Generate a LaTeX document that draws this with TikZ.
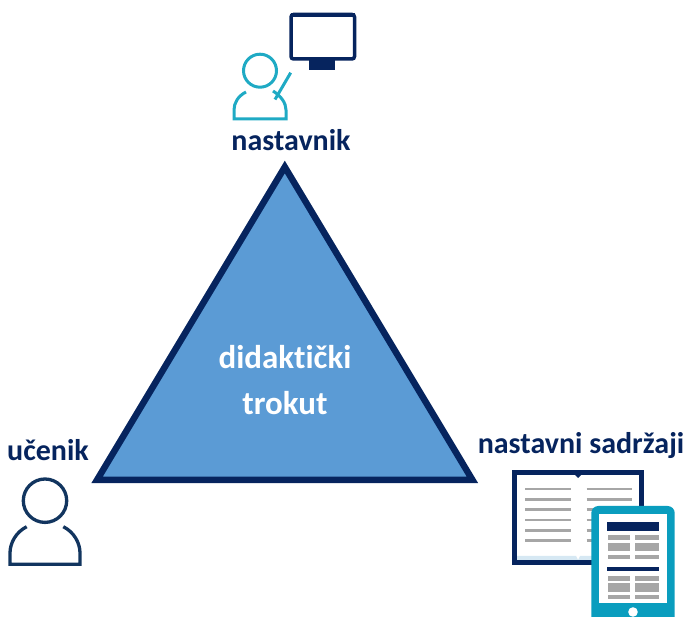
\documentclass[tikz,border=0pt]{standalone}
\usepackage{fontspec}
\setmainfont[Ligatures=NoCommon]{Carlito}
\definecolor{navy}{HTML}{06245E}
\definecolor{navyb}{HTML}{12355F}
\definecolor{tealc}{HTML}{1FAAC4}
\definecolor{tabc}{HTML}{0A9DBE}
\definecolor{triblue}{HTML}{5B9BD5}
\definecolor{grayl}{HTML}{A6A6A6}
\definecolor{paleb}{HTML}{D6E8F3}
\tikzset{
  lbl/.style={font=\fontsize{30}{34}\selectfont\bfseries,text=navy,anchor=base,inner sep=0pt},
  wlbl/.style={font=\fontsize{33}{38}\selectfont\bfseries,text=white,anchor=base,inner sep=0pt},
  booklines/.style={draw=grayl,line width=2.5pt},
  grayblock/.style={fill=grayl,draw=none},
  darkbar/.style={fill=navy,draw=none},
}
\begin{document}
\begin{tikzpicture}[x=1pt,y=-1pt]
\useasboundingbox (0,0) rectangle (686,617);
% triangle
\draw[draw=navy,fill=triblue,line width=6.5pt,miter limit=10] (284.8,167) -- (472.5,480) -- (97,480) -- cycle;
\node[wlbl] (t1) at (285,369) {didaktički};
\node[wlbl] (t2) at (285,415) {trokut};
\node[lbl] (n) at (291,151) {nastavnik};
\node[lbl] (u) at (48,461) {učenik};
\node[lbl] (s) at (581,454) {nastavni sadržaji};
% teacher
\begin{scope}[draw=tealc,line width=3pt]
\draw (260,70.7) circle (16.5);
\draw (246,92) .. controls (238,96) and (234,103) .. (234,110) -- (234,119) -- (286,119) -- (286,110) .. controls (286,103) and (281,96) .. (273,91);
\draw (290.7,72.7) -- (275,99.5);
\end{scope}
% monitor
\draw[navy,line width=3.5pt,rounded corners=2.5pt,fill=white] (291,14.5) rectangle (354.5,59);
\fill[navy] (291,12.7) rectangle (354.5,17);
\fill[navy] (309,59) rectangle (335,70);
% book
\draw[navy,line width=5pt,fill=white] (514.5,472.3) rectangle (641.5,562.5);
\fill[paleb] (517,556) -- (576,556) -- (578,560) -- (580,556) -- (639,556) -- (639,560) -- (517,560) -- cycle;
\fill[navy] (573,471) -- (583,471) -- (583,473) -- (578,478) -- (573,473) -- cycle;
\foreach \yy in {489,499.3,509.7,520,530.3,540.7}{
  \draw[booklines] (525,\yy) -- (570.7,\yy);
  \draw[booklines] (586.7,\yy) -- (631.7,\yy);
}
% tablet
\fill[tabc,rounded corners=7pt] (591.3,506) rectangle (674.7,625);
\fill[white] (599.3,514.3) rectangle (666.7,603.3);
\fill[white] (633,612) circle (4.8);
\fill[darkbar] (606.7,521.7) rectangle (659.3,530.7);
\fill[darkbar] (606.7,566.7) rectangle (659.3,571);
\foreach \ya/\yb in {535.3/540,543.3/551.3,554.7/559.3,576.3/580.7,583.3/592,595/599.3}{
  \fill[grayblock] (608.3,\ya) rectangle (630,\yb);
  \fill[grayblock] (634.7,\ya) rectangle (659.3,\yb);
}
% student
\begin{scope}[draw=navyb,line width=3.3pt]
\draw (45,500.7) circle (21.7);
\draw (26.7,526.7) .. controls (16,532) and (10,543) .. (10,553) -- (10,564.3) -- (80,564.3) -- (80,553) .. controls (80,543) and (74,532) .. (63.3,526.7);
\end{scope}
\end{tikzpicture}
\end{document}
